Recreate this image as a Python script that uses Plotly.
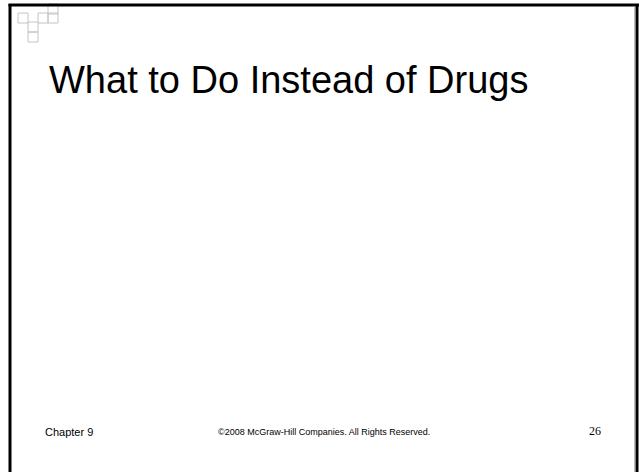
import plotly.graph_objects as go

W, H = 640, 472

title_text = "What to Do Instead of Drugs"
footer_left = "Chapter 9"
footer_center = "©2008 McGraw-Hill Companies. All Rights Reserved."
page_number = "26"

# decorative grid squares (left, top) in pixel units, 10px cells
deco_squares = [(18, 13), (38, 13), (48, 4), (48, 13), (28, 22), (28, 32)]

fig = go.Figure()
fig.add_trace(go.Scatter(x=[0], y=[0], mode="markers", marker=dict(opacity=0), hoverinfo="skip", showlegend=False))

shapes = []
for (sx, sy) in deco_squares:
    shapes.append(dict(type="rect", x0=sx, x1=sx + 10, y0=sy, y1=sy + 10,
                       line=dict(color="#c4c4c4", width=1), layer="below"))
# frame
shapes.append(dict(type="line", x0=10, x1=10, y0=4, y1=H + 2, line=dict(color="#000", width=3)))
shapes.append(dict(type="line", x0=8.5, x1=639, y0=5, y1=5, line=dict(color="#000", width=3)))
shapes.append(dict(type="line", x0=637, x1=637, y0=4, y1=H + 2, line=dict(color="#000", width=3)))
shapes.append(dict(type="line", x0=634.5, x1=634.5, y0=6.5, y1=H + 2, line=dict(color="#bbbbbb", width=1)))

annotations = [
    dict(x=47, y=80, text=title_text, showarrow=False, xanchor="left", yanchor="middle",
         font=dict(family="Liberation Sans, Arial", size=38, color="#000")),
    dict(x=43, y=432, text=footer_left, showarrow=False, xanchor="left", yanchor="middle",
         font=dict(family="Liberation Sans, Arial", size=11, color="#000")),
    dict(x=324, y=432, text=footer_center, showarrow=False, xanchor="center", yanchor="middle",
         font=dict(family="Liberation Sans, Arial", size=9, color="#000")),
    dict(x=595, y=431, text=page_number, showarrow=False, xanchor="center", yanchor="middle",
         font=dict(family="Liberation Serif, serif", size=12, color="#000")),
]

fig.update_layout(
    width=W, height=H,
    margin=dict(l=0, r=0, t=0, b=0),
    paper_bgcolor="white", plot_bgcolor="white",
    xaxis=dict(range=[0, W], visible=False, fixedrange=True),
    yaxis=dict(range=[H, 0], visible=False, fixedrange=True),
    shapes=shapes, annotations=annotations, showlegend=False,
)

fig.write_html("out.html", config={"displayModeBar": False},
               post_script="document.body.style.margin='0';document.body.style.overflow='hidden';")
